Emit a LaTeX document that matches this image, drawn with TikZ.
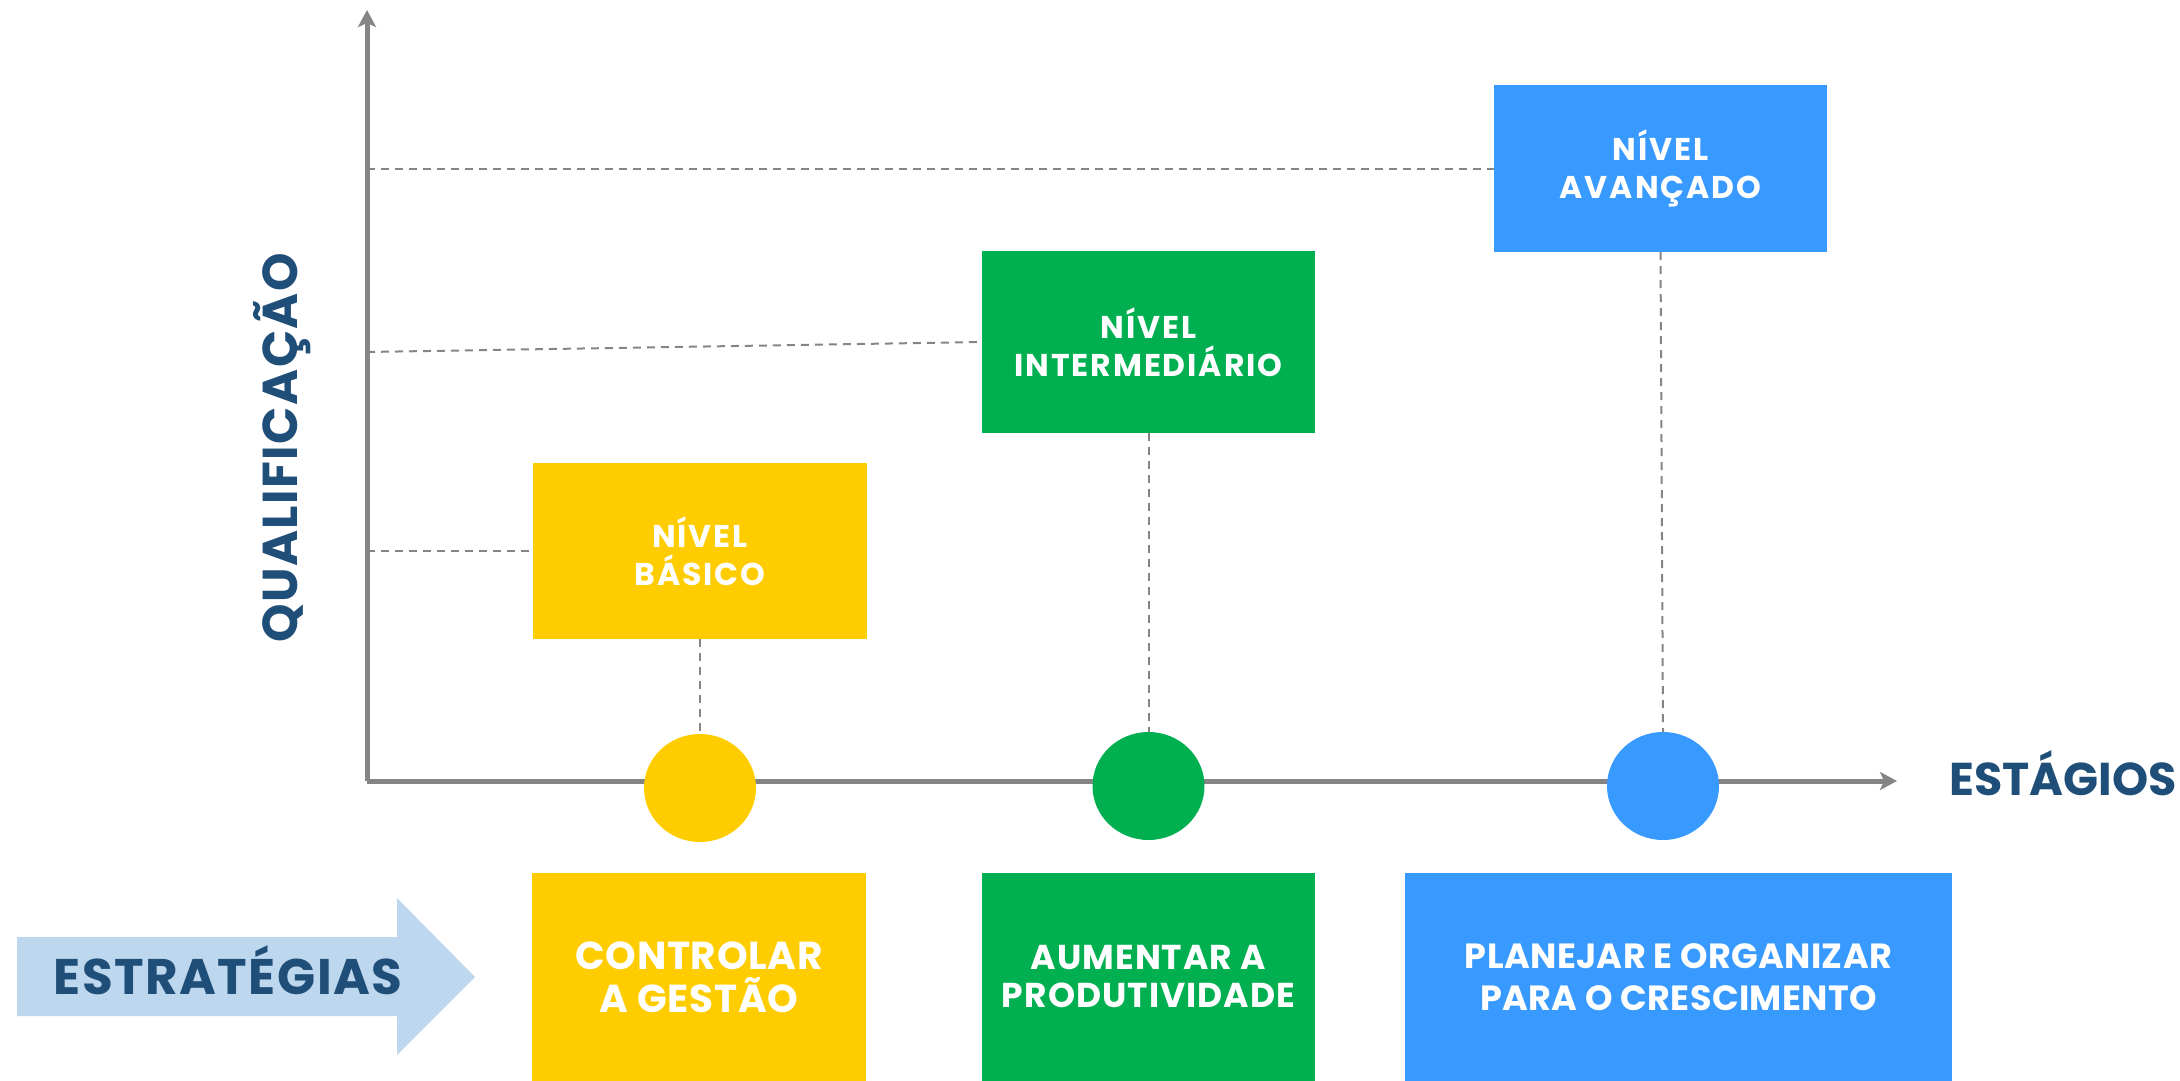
\documentclass[tikz,border=0pt]{standalone}
\usepackage{fontspec}
\setmainfont{Poppins}
\usetikzlibrary{arrows.meta,shapes.geometric}
\definecolor{cyellow}{RGB}{255,204,0}
\definecolor{cgreen}{RGB}{0,175,80}
\definecolor{cblue}{RGB}{56,153,255}
\definecolor{cnavy}{RGB}{31,78,121}
\definecolor{clight}{RGB}{189,215,238}
\definecolor{cgray}{RGB}{133,133,133}
\newcommand{\mysz}[2]{\fontsize{#1}{#2}\selectfont\bfseries}
\tikzset{
  axisline/.style={draw=cgray,line width=5pt,-{Stealth[length=17pt,width=18pt,inset=4pt]}},
  guide/.style={draw=cgray,line width=2pt,dash pattern=on 8pt off 6pt},
  levelbox/.style={inner sep=0pt,align=center,text=white,font=\mysz{31.5}{38}\addfontfeatures{LetterSpace=6}},
  stratbox/.style={inner sep=0pt,align=center,text=white},
  dot/.style={ellipse,inner sep=0pt,minimum width=112pt,minimum height=108pt},
  axislabel/.style={text=cnavy,inner sep=0pt,anchor=base}
}
\begin{document}
\begin{tikzpicture}[x=1pt,y=-1pt]
\useasboundingbox (0,0) rectangle (2180,1081);
% axes
\coordinate (origin) at (367,781);
\coordinate (ytip) at (367,10);
\coordinate (xtip) at (1897,781);
\coordinate (g1) at (367,551);
\coordinate (g2) at (367,352);
\coordinate (g3) at (367,168.5);
\draw[axisline] (origin) -- (ytip);
\draw[axisline] (origin) -- (xtip);
% level boxes
\node[levelbox,fill=cyellow,minimum width=334pt,minimum height=176pt] (basico) at (700,551) {NÍVEL\\BÁSICO};
\node[levelbox,fill=cgreen,minimum width=333pt,minimum height=182pt] (inter) at (1148.5,342) {NÍVEL\\INTERMEDIÁRIO};
\node[levelbox,fill=cblue,minimum width=333pt,minimum height=167pt] (avanc) at (1660.5,168.5) {NÍVEL\\AVANÇADO};
% dots
\node[dot,fill=cyellow] (d1) at (700,788) {};
\node[dot,fill=cgreen] (d2) at (1148.5,786) {};
\node[dot,fill=cblue] (d3) at (1663,786) {};
% guides
\draw[guide] (g1) -- (basico.west);
\draw[guide] (g2) -- (inter.west);
\draw[guide] (g3) -- (avanc.west);
\draw[guide] (basico.south) -- (d1.north);
\draw[guide] (inter.south) -- (d2.north);
\draw[guide] (avanc.south) -- (d3.north);
% axis labels
\node[axislabel,font=\mysz{46}{50}] (estagios) at (2063,795) {ESTÁGIOS};
\node[axislabel,rotate=90,font=\mysz{49}{50}\addfontfeatures{LetterSpace=3}] (qualif) at (297,448) {QUALIFICAÇÃO};
% strategy arrow
\fill[clight] (17,937) -- (397,937) -- (397,898) -- (475,977) -- (397,1055) -- (397,1016) -- (17,1016) -- cycle;
\node[axislabel,font=\mysz{50}{50}\addfontfeatures{LetterSpace=3}] (estrat) at (228,994) {ESTRATÉGIAS};
% strategy boxes
\node[stratbox,fill=cyellow,minimum width=334pt,minimum height=208pt,font=\mysz{39}{43}\addfontfeatures{LetterSpace=2}] (s1) at (699,977) {CONTROLAR\\A GESTÃO};
\node[stratbox,fill=cgreen,minimum width=333pt,minimum height=208pt,font=\mysz{34.5}{38}\addfontfeatures{LetterSpace=3}] (s2) at (1148.5,977) {AUMENTAR A\\PRODUTIVIDADE};
\node[stratbox,fill=cblue,minimum width=547pt,minimum height=208pt,font=\mysz{35}{42}\addfontfeatures{LetterSpace=1}] (s3) at (1678.5,977) {PLANEJAR E ORGANIZAR\\PARA O CRESCIMENTO};
\end{tikzpicture}
\end{document}
